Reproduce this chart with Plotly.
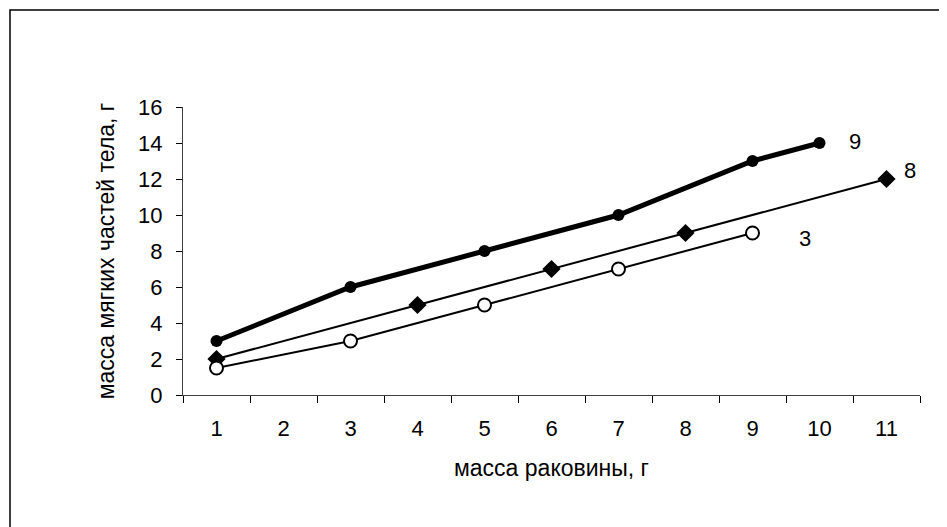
import plotly.graph_objects as go

# Data (x = shell mass category, y = soft body mass)
x_s9 = [1, 3, 5, 7, 9, 10]
y_s9 = [3, 6, 8, 10, 13, 14]

x_s8 = [1, 4, 6, 8, 11]
y_s8 = [2, 5, 7, 9, 12]

x_s3 = [1, 3, 5, 7, 9]
y_s3 = [1.5, 3, 5, 7, 9]

x_ticks = [1, 2, 3, 4, 5, 6, 7, 8, 9, 10, 11]
y_ticks = [0, 2, 4, 6, 8, 10, 12, 14, 16]

FONT = "Liberation Sans, Arial, sans-serif"
FS = 22
FT = 23

fig = go.Figure()
fig.add_trace(go.Scatter(x=x_s9, y=y_s9, mode="lines+markers",
                         line=dict(color="black", width=5),
                         marker=dict(symbol="circle", size=12, color="black"),
                         cliponaxis=False, showlegend=False))
fig.add_trace(go.Scatter(x=x_s8, y=y_s8, mode="lines+markers",
                         line=dict(color="black", width=2),
                         marker=dict(symbol="diamond", size=14, color="black"),
                         cliponaxis=False, showlegend=False))
fig.add_trace(go.Scatter(x=x_s3, y=y_s3, mode="lines+markers",
                         line=dict(color="black", width=2),
                         marker=dict(symbol="circle", size=13, color="white",
                                     line=dict(color="black", width=2)),
                         cliponaxis=False, showlegend=False))

for txt, ax_, ay_ in [("9", 10.53, 14.1), ("8", 11.35, 12.5), ("3", 9.78, 8.7)]:
    fig.add_annotation(x=ax_, y=ay_, text=txt, showarrow=False,
                       font=dict(family=FONT, size=FS, color="black"))

# page body has an 8px offset
OFF = 8
W, H = 947 - OFF, 527 - OFF
L, R, T, B = 183 - OFF, 27, 107 - OFF, 132
pw, ph = W - L - R, H - T - B

def px_x(p):
    return (p - OFF - L) / pw

def px_y(p):
    return (H - B - (p - OFF)) / ph

fig.add_shape(type="rect", xref="paper", yref="paper",
              x0=px_x(10), y0=px_y(570), x1=px_x(990), y1=px_y(10),
              line=dict(color="black", width=1.5), fillcolor="rgba(0,0,0,0)")

fig.update_layout(
    width=W, height=H,
    margin=dict(l=L, r=R, t=T, b=B),
    paper_bgcolor="white", plot_bgcolor="white",
    font=dict(family=FONT, size=FS, color="black"),
    xaxis=dict(range=[0.5, 11.5], tickvals=x_ticks, ticktext=[str(v) for v in x_ticks],
               ticks="", showgrid=False, zeroline=False,
               showline=True, linecolor="#404040", linewidth=1.3,
               ticklabelstandoff=13,
               minor=dict(ticks="outside", tick0=0.5, dtick=1, ticklen=7,
                          tickcolor="black", tickwidth=1.3, showgrid=False),
               title=dict(text="масса раковины, г", standoff=20,
                          font=dict(family=FONT, size=FT))),
    yaxis=dict(range=[0, 16], tickvals=y_ticks, ticks="outside", ticklen=6,
               tickcolor="black", tickwidth=1.3, showgrid=False, zeroline=False,
               showline=True, linecolor="#404040", linewidth=1.3,
               ticklabelstandoff=9,
               title=dict(text="масса мягких частей тела, г", standoff=16,
                          font=dict(family=FONT, size=FT))),
)

fig.write_html("out.html")
